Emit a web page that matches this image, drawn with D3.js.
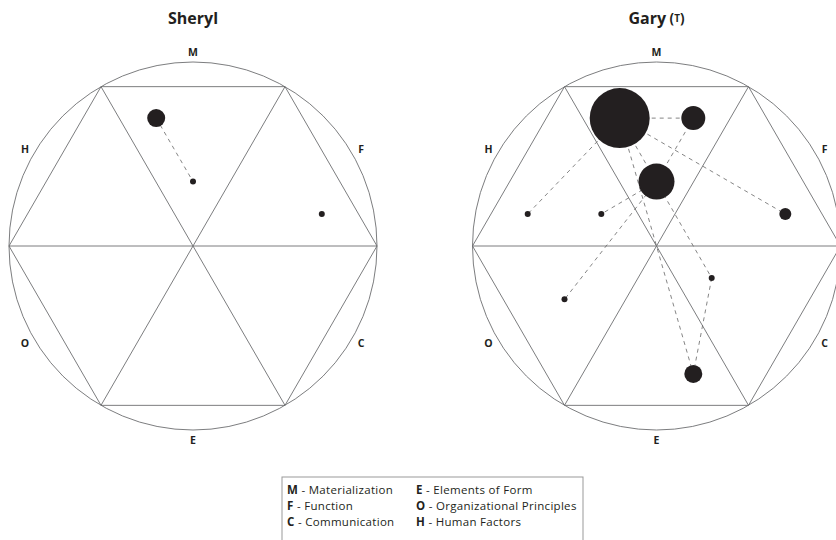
<!DOCTYPE html>
<html><head><meta charset="utf-8">
<script src="https://cdn.jsdelivr.net/npm/d3@7"></script>
<style>body{margin:0;background:#fff;} svg{display:block;font-family:"Open Sans","Noto Sans",sans-serif;}</style>
</head><body>
<svg id="chart" width="836" height="540"></svg>
<script>
// ---- data ----
const axisLetters = ["M","F","C","E","O","H"];
const axisAngles = [90, 30, -30, -90, -150, 150];
const titles = ["Sheryl", "Gary"];
const titleSuffix = ["", "T"];

// points: x, y in [-100,100] frame (y up), value = count
const sherylX = [-20, 0, 70];
const sherylY = [69.5, 35, 17.4];
const sherylV = [3, 1, 1];
const sherylLinks = [[0,1]];

const garyX = [-20, 20, 0, -30, -70, 70, 30, -50, 20];
const garyY = [69.5, 69.5, 35, 17.4, 17.4, 17.4, -17.4, -29, -69.5];
const garyV = [10, 4, 6, 1, 1, 2, 1, 1, 3];
const garyLinks = [[0,1],[0,5],[0,4],[0,8],[0,6],[1,2],[2,3],[2,7],[6,8]];

const legendKeys = ["M","E","F","O","C","H"];
const legendNames = ["Materialization","Elements of Form","Function","Organizational Principles","Communication","Human Factors"];

// ---- drawing ----
const svg = d3.select("#chart");
const R = 184;
const centers = [[193, 246], [656.5, 246]];
const rScale = d3.scaleLinear().domain([0, 10]).range([0, 30]);

function panel(i, xs, ys, vs, links) {
  const [cx, cy] = centers[i];
  const x = d3.scaleLinear().domain([-100, 100]).range([cx - R, cx + R]);
  const y = d3.scaleLinear().domain([-100, 100]).range([cy + R, cy - R]);
  const g = svg.append("g");
  g.append("circle").attr("cx", cx).attr("cy", cy).attr("r", R)
    .attr("fill", "none").attr("stroke", "#6d6e71").attr("stroke-width", 0.9);
  const verts = d3.range(6).map(k => {
    const a = k * Math.PI / 3;
    return [cx + R * Math.cos(a), cy - R * Math.sin(a)];
  });
  g.append("path").attr("d", "M" + verts.map(v => v.join(",")).join("L") + "Z")
    .attr("fill", "none").attr("stroke", "#6d6e71").attr("stroke-width", 0.9);
  for (let k = 0; k < 3; k++) {
    g.append("line").attr("x1", verts[k][0]).attr("y1", verts[k][1])
      .attr("x2", verts[k+3][0]).attr("y2", verts[k+3][1])
      .attr("stroke", "#6d6e71").attr("stroke-width", 0.9);
  }
  const LR = 194;
  axisLetters.forEach((L, k) => {
    const a = axisAngles[k] * Math.PI / 180;
    g.append("text").attr("x", cx + LR * Math.cos(a)).attr("y", cy - LR * Math.sin(a))
      .attr("text-anchor", "middle").attr("dominant-baseline", "central")
      .attr("font-size", 10.5).attr("font-weight", 700).attr("fill", "#231f20").text(L);
  });
  const t = g.append("text").attr("x", cx).attr("y", 18).attr("text-anchor", "middle")
    .attr("dominant-baseline", "central").attr("font-size", 16).attr("font-weight", 700)
    .attr("fill", "#231f20").text(titles[i]);
  if (titleSuffix[i]) {
    t.append("tspan").text(" (").attr("font-size", 13.5);
    t.append("tspan").text(titleSuffix[i]).attr("font-size", 10);
    t.append("tspan").text(")").attr("font-size", 13.5);
  }
  links.forEach(([a, b]) => {
    g.append("line").attr("x1", x(xs[a])).attr("y1", y(ys[a]))
      .attr("x2", x(xs[b])).attr("y2", y(ys[b]))
      .attr("stroke", "#666").attr("stroke-width", 0.8).attr("stroke-dasharray", "4,4");
  });
  xs.forEach((v, k) => {
    g.append("circle").attr("cx", x(v)).attr("cy", y(ys[k])).attr("r", rScale(vs[k]))
      .attr("fill", "#231f20");
  });
}
panel(0, sherylX, sherylY, sherylV, sherylLinks);
panel(1, garyX, garyY, garyV, garyLinks);

// legend
const lg = svg.append("g");
lg.append("rect").attr("x", 282).attr("y", 477).attr("width", 301).attr("height", 80)
  .attr("fill", "none").attr("stroke", "#999").attr("stroke-width", 1);
legendKeys.forEach((k, i) => {
  const col = i % 2, row = Math.floor(i / 2);
  const t = lg.append("text").attr("x", col ? 416 : 287).attr("y", 489 + row * 16)
    .attr("dominant-baseline", "central").attr("font-size", 11.5)
    .attr("letter-spacing", 0.3).attr("fill", "#231f20");
  t.append("tspan").attr("font-weight", 700).text(k);
  t.append("tspan").text(" - " + legendNames[i]);
});
</script>
</body></html>
